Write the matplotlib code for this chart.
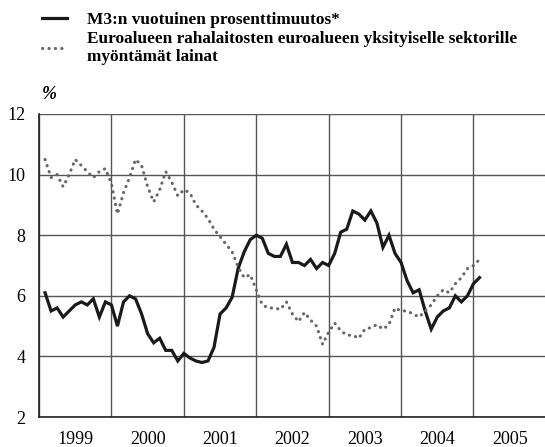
import matplotlib
matplotlib.use("Agg")
import matplotlib.pyplot as plt
import numpy as np

# monthly observations, Jan 1999 .. Jan 2005
start_year = 1999
m3_growth = [
    6.1, 5.5, 5.6, 5.3, 5.5, 5.7, 5.8, 5.7, 5.9, 5.3, 5.8, 5.7,   # 1999
    5.0, 5.8, 6.0, 5.9, 5.4, 4.75, 4.45, 4.6, 4.2, 4.2, 3.85, 4.1,  # 2000
    3.95, 3.85, 3.8, 3.85, 4.3, 5.4, 5.6, 5.95, 6.9, 7.45, 7.85, 8.0,  # 2001
    7.9, 7.4, 7.3, 7.3, 7.7, 7.1, 7.1, 7.0, 7.2, 6.9, 7.1, 7.0,   # 2002
    7.4, 8.1, 8.2, 8.8, 8.7, 8.5, 8.8, 8.4, 7.6, 8.0, 7.4, 7.1,   # 2003
    6.5, 6.1, 6.2, 5.5, 4.9, 5.3, 5.5, 5.6, 6.0, 5.8, 6.0, 6.4,   # 2004
    6.6,                                                          # 2005
]
loans_growth = [
    10.5, 9.9, 10.0, 9.6, 10.0, 10.5, 10.3, 10.1, 9.9, 10.1, 10.2, 9.7,  # 1999
    8.7, 9.4, 9.9, 10.5, 10.3, 9.6, 9.1, 9.5, 10.1, 9.75, 9.3, 9.5,    # 2000
    9.4, 9.0, 8.8, 8.55, 8.2, 7.95, 7.7, 7.45, 6.95, 6.6, 6.7, 6.2,    # 2001
    5.7, 5.6, 5.6, 5.55, 5.8, 5.4, 5.15, 5.45, 5.2, 5.0, 4.4, 4.8,     # 2002
    5.1, 4.85, 4.7, 4.7, 4.6, 4.9, 4.95, 5.05, 4.9, 5.05, 5.6, 5.5,    # 2003
    5.5, 5.4, 5.3, 5.5, 5.7, 6.0, 6.2, 6.1, 6.4, 6.6, 6.9, 7.0,        # 2004
    7.2,                                                               # 2005
]
years = [1999, 2000, 2001, 2002, 2003, 2004, 2005]
yticks = [2, 4, 6, 8, 10, 12]

label_m3 = "M3:n vuotuinen prosenttimuutos*"
label_loans = "Euroalueen rahalaitosten euroalueen yksityiselle sektorille\nmyöntämät lainat"

plt.rcParams['font.family'] = ['Liberation Serif', 'DejaVu Serif']

fig = plt.figure(figsize=(5.45, 4.47), dpi=100)
ax = fig.add_axes([0.0716, 0.067, 0.93, 0.678])

x = start_year + (np.arange(len(m3_growth)) + 1) / 12.0

l1, = ax.plot(x, m3_growth, color='#1a1a1a', lw=2.3, solid_joinstyle='miter',
              label=label_m3)
l2, = ax.plot(x, loans_growth, color='#666666', lw=2.2,
              linestyle=(0, (0.1, 2.0)), dash_capstyle='round',
              label=label_loans)

ax.set_xlim(1999, 2006)
ax.set_ylim(2, 12)
ax.set_yticks(yticks)
ax.set_xticks(range(1999, 2007))
ax.set_xticklabels([])
ax.set_xticks([y + 0.5 for y in years], minor=True)
ax.set_xticklabels([str(y) for y in years], minor=True)
ax.tick_params(axis='x', which='both', length=0, labelsize=13, pad=10)
ax.tick_params(axis='y', length=0, labelsize=13, pad=10)

ax.grid(True, which='major', axis='both', color='#555555', lw=1.0)
ax.set_axisbelow(True)
for s in ['top', 'right']:
    ax.spines[s].set_visible(False)
for s in ['left', 'bottom']:
    ax.spines[s].set_color('#222222')
    ax.spines[s].set_linewidth(1.2)

ax.text(0.005, 1.035, '%', transform=ax.transAxes, fontsize=13,
        style='italic', fontweight='bold', va='bottom', ha='left')

fig.legend(handles=[l1, l2], loc='upper left', bbox_to_anchor=(0.055, 1.0),
           frameon=False, prop={'weight': 'bold', 'size': 12.4},
           handlelength=1.45, handletextpad=1.15, labelspacing=0.15,
           borderaxespad=0.3)

fig.savefig('out.png', dpi=100)
